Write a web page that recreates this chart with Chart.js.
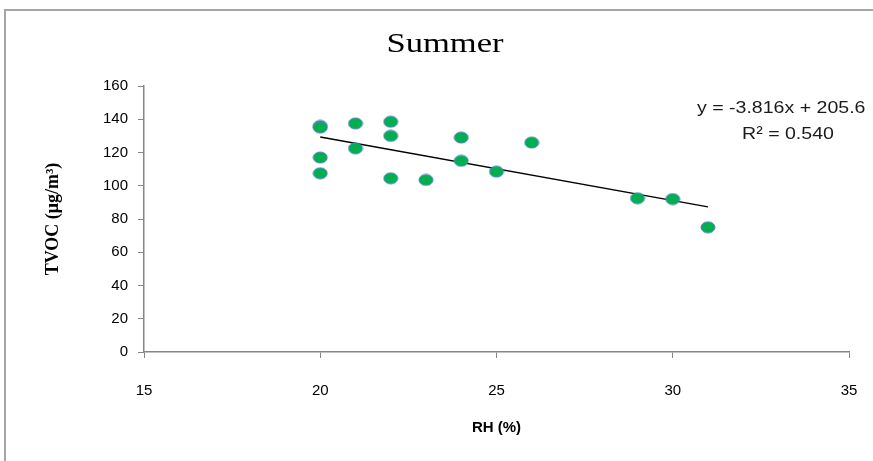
<!DOCTYPE html>
<html>
<head>
<meta charset="utf-8">
<script src="https://cdn.jsdelivr.net/npm/chart.js@4"></script>
<style>
  html, body { margin: 0; padding: 0; background: #fff; }
  #wrap { width: 873px; height: 461px; position: relative; }
</style>
</head>
<body>
<div id="wrap"><canvas id="summerChart" width="873" height="461"></canvas></div>
<script>
    // values
    const rh   = [20, 20, 20, 20, 21, 21, 22, 22, 22, 23, 24, 24, 25, 26, 29, 30, 31];
    const tvoc = [136, 135, 117, 107.5, 137.5, 122.5, 138.5, 130, 104.5, 103.5, 129, 115, 108.5, 126, 92.5, 92, 75];

    // linear trend as printed on the chart
    const trendX = [20, 31];
    const trendY = [129.3, 87.3];
    const trendText = ['y = -3.816x + 205.6', 'R\u00B2 = 0.540'];

    const xTicks = [15, 20, 25, 30, 35];
    const yTicks = [0, 20, 40, 60, 80, 100, 120, 140, 160];

    const points = rh.map((x, i) => ({ x: x, y: tvoc[i] }));
    const trend = trendX.map((x, i) => ({ x: x, y: trendY[i] }));

    // slightly flattened marker, like the picture
    const marker = document.createElement('canvas');
    marker.width = 16;
    marker.height = 13;
    (function () {
        const m = marker.getContext('2d');
        m.beginPath();
        m.ellipse(8, 6.5, 7, 5.5, 0, 0, Math.PI * 2);
        m.fillStyle = '#00b050';
        m.fill();
        m.lineWidth = 1;
        m.strokeStyle = '#4f81bd';
        m.stroke();
    })();

    function stretchedText(c, text, x, y, sx) {
        c.save();
        c.translate(x, y);
        c.scale(sx, 1);
        c.fillText(text, 0, 0);
        c.restore();
    }

    const decor = {
        id: 'decor',
        beforeDraw(chart) {
            const c = chart.ctx;
            c.save();
            c.fillStyle = '#fff';
            c.fillRect(0, 0, chart.width, chart.height);
            c.strokeStyle = '#a6a6a6';
            c.lineWidth = 2;
            c.strokeRect(5, 10, 900, 500);
            c.restore();
        },
        afterDraw(chart) {
            const c = chart.ctx;
            c.save();
            c.fillStyle = '#000';
            c.font = '27px "Liberation Serif"';
            c.textAlign = 'center';
            c.textBaseline = 'middle';
            stretchedText(c, 'Summer', 445, 45, 1.28);
            c.font = '17px "Liberation Sans"';
            c.fillStyle = '#1a1a1a';
            c.textAlign = 'left';
            stretchedText(c, trendText[0], 697, 108, 1.15);
            c.textAlign = 'center';
            stretchedText(c, trendText[1], 788, 134, 1.15);
            c.restore();
        }
    };

    new Chart(document.getElementById('summerChart').getContext('2d'), {
        type: 'scatter',
        data: {
            datasets: [{
                data: points,
                pointStyle: marker,
                pointRadius: 6.5,
                pointHoverRadius: 6.5
            }, {
                type: 'line',
                data: trend,
                borderColor: '#000',
                borderWidth: 1.5,
                pointRadius: 0,
                fill: false
            }]
        },
        options: {
            responsive: false,
            animation: false,
            events: [],
            layout: { padding: { left: 40, right: 24, top: 86, bottom: 0 } },
            plugins: { legend: { display: false }, tooltip: { enabled: false }, title: { display: false } },
            scales: {
                x: {
                    type: 'linear', min: 15, max: 35,
                    afterBuildTicks: s => { s.ticks = xTicks.map(v => ({ value: v })); },
                    afterFit: s => { s.height = 109; s.paddingLeft = 0; s.paddingRight = 0; },
                    grid: { drawOnChartArea: false, color: '#868686', tickLength: 6, lineWidth: 1 },
                    border: { color: '#868686', width: 1.5 },
                    ticks: { color: '#000', font: { family: 'Liberation Sans', size: 15 }, padding: 24, maxRotation: 0 },
                    title: { display: true, text: 'RH (%)', color: '#000', font: { family: 'Liberation Sans', size: 15, weight: 'bold' }, padding: { top: 0, bottom: 24 } }
                },
                y: {
                    type: 'linear', min: 0, max: 160,
                    afterBuildTicks: s => { s.ticks = yTicks.map(v => ({ value: v })); },
                    afterFit: s => { s.width = 104; },
                    grid: { drawOnChartArea: false, color: '#868686', tickLength: 6, lineWidth: 1 },
                    border: { color: '#868686', width: 1.5 },
                    ticks: { color: '#000', font: { family: 'Liberation Sans', size: 15 }, padding: 10 },
                    title: { display: true, text: 'TVOC (\u03BCg/m\u00B3)', color: '#000', font: { family: 'Liberation Serif', size: 18, weight: 'bold' }, padding: { top: 3, bottom: 0 } }
                }
            }
        },
        plugins: [decor]
    });
</script>
</body>
</html>
